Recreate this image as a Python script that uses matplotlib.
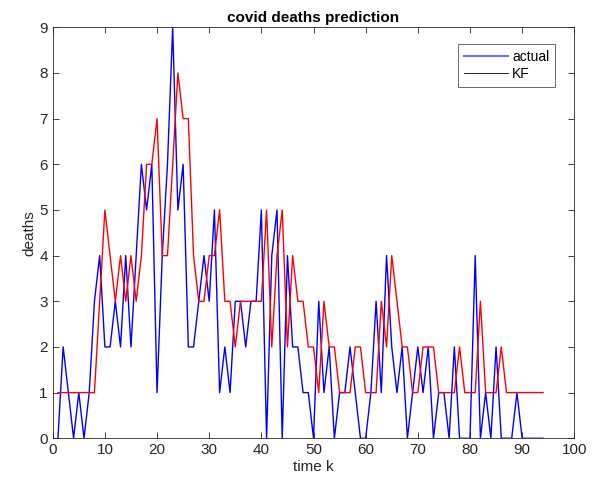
import matplotlib
matplotlib.use("Agg")
import matplotlib.pyplot as plt
from matplotlib.lines import Line2D

k = list(range(1, 95))

actual = [0, 2, 1, 0, 1, 0, 1, 3, 4, 2,
          2, 3, 2, 4, 2, 4, 6, 5, 6, 1,
          4, 6, 9, 5, 6, 2, 2, 3, 4, 3,
          5, 1, 2, 1, 3, 3, 2, 3, 3, 5,
          0, 4, 5, 0, 4, 2, 2, 1, 1, 0,
          3, 1, 2, 0, 1, 1, 2, 1, 0, 0,
          1, 3, 1, 4, 2, 1, 2, 0, 1, 2,
          1, 2, 0, 1, 1, 0, 2, 0, 0, 0,
          4, 0, 1, 0, 2, 0, 0, 0, 1, 0,
          0, 0, 0, 0]

kf = [1, 1, 1, 1, 1, 1, 1, 1, 3, 5,
      4, 3, 4, 3, 4, 3, 4, 6, 6, 7,
      4, 4, 6, 8, 7, 7, 4, 3, 3, 4,
      4, 5, 3, 3, 2, 3, 3, 3, 3, 3,
      5, 2, 4, 5, 2, 4, 3, 3, 2, 2,
      1, 3, 2, 2, 1, 1, 1, 2, 2, 1,
      1, 1, 3, 2, 4, 3, 2, 2, 1, 1,
      2, 2, 2, 1, 1, 1, 1, 2, 1, 1,
      1, 3, 1, 1, 1, 2, 1, 1, 1, 1,
      1, 1, 1, 1]

plt.rcParams["font.family"] = ["Liberation Sans", "DejaVu Sans"]

fig = plt.figure(figsize=(6.06, 4.93), dpi=100)
ax = fig.add_axes([0.087, 0.111, 0.8607, 0.8336])

ax.plot(k, actual, color="blue", linewidth=1.0)
ax.plot(k, kf, color="red", linewidth=1.0)

ax.set_xlim(0, 100)
ax.set_ylim(0, 9)
ax.set_xticks(range(0, 101, 10))
ax.set_yticks(range(0, 10))
ax.tick_params(direction="in", top=True, right=True, labelsize=11,
               length=4, width=0.6, color="#262626", labelcolor="#262626")
for s in ax.spines.values():
    s.set_linewidth(0.6)
    s.set_color("#262626")

ax.set_title("covid deaths prediction", fontsize=11, fontweight="bold", pad=4)
ax.set_xlabel("time k", fontsize=11, color="#262626", labelpad=2)
ax.set_ylabel("deaths", fontsize=11, color="#262626", labelpad=2)

handles = [Line2D([], [], color="#6f6ff5", linewidth=1.5),
           Line2D([], [], color="black", linewidth=0.6)]
leg = ax.legend(handles, ["actual", "KF"], loc="upper right",
                bbox_to_anchor=(0.963, 0.959), borderaxespad=0,
                fancybox=False, fontsize=10, handlelength=3.2,
                handletextpad=0.3, labelspacing=0.25, borderpad=0.4)
leg.get_frame().set_edgecolor("#262626")
leg.get_frame().set_linewidth(0.6)

fig.savefig("out.png", dpi=100)
plt.close(fig)
